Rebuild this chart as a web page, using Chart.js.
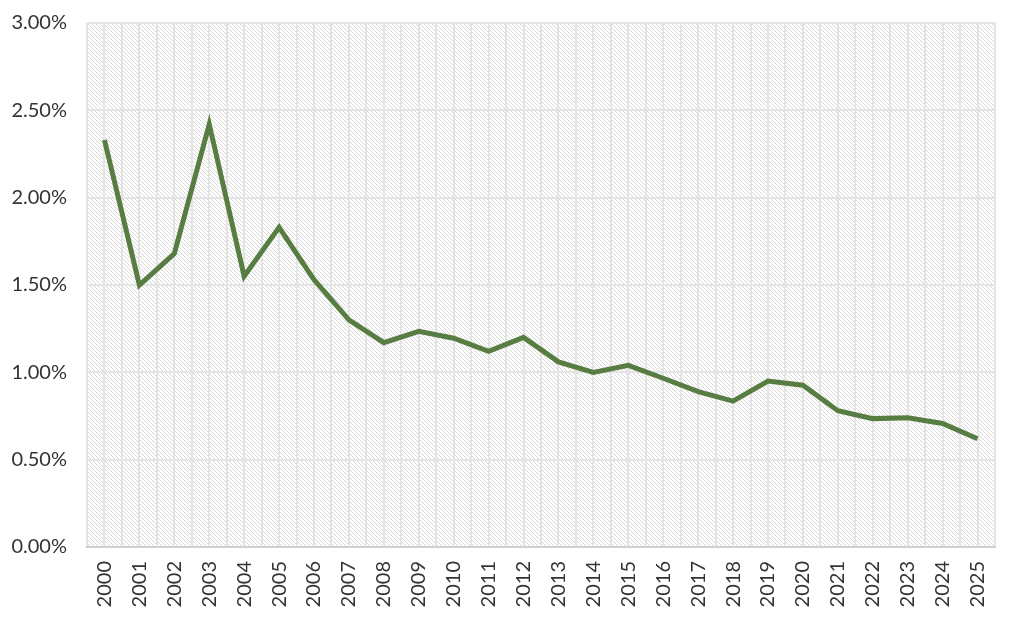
<!DOCTYPE html>
<html>
<head>
<meta charset="utf-8">
<script src="https://cdn.jsdelivr.net/npm/chart.js@4.4.1/dist/chart.umd.min.js"></script>
<style>
  html, body { margin: 0; padding: 0; background: #fff; }
  #wrap { width: 1024px; height: 633px; }
</style>
</head>
<body>
<div id="wrap"><canvas id="myChart" width="1024" height="633"></canvas></div>
<script>
const years = ["2000", "2001", "2002", "2003", "2004", "2005", "2006", "2007", "2008", "2009",
  "2010", "2011", "2012", "2013", "2014", "2015", "2016", "2017", "2018", "2019",
  "2020", "2021", "2022", "2023", "2024", "2025"];
const rates = [2.33, 1.50, 1.68, 2.42, 1.55, 1.83, 1.53, 1.30, 1.17, 1.235,
  1.195, 1.12, 1.20, 1.06, 1.00, 1.04, 0.966, 0.89, 0.835, 0.95,
  0.926, 0.78, 0.735, 0.74, 0.707, 0.62];
const yMin = 0;
const yMax = 3;
const yStep = 0.5;

// diagonal hatch behind the plot area
function makeHatch(ctx) {
  const c = document.createElement("canvas");
  c.width = 4; c.height = 4;
  const p = c.getContext("2d");
  p.fillStyle = "#ffffff";
  p.fillRect(0, 0, 4, 4);
  p.strokeStyle = "#d8d8d8";
  p.lineWidth = 1;
  p.beginPath();
  p.moveTo(-1, -1); p.lineTo(5, 5);
  p.moveTo(-1, 3); p.lineTo(1, 5);
  p.moveTo(3, -1); p.lineTo(5, 1);
  p.stroke();
  return ctx.createPattern(c, "repeat");
}

const hatchBg = {
  id: "hatchBg",
  beforeDraw(chart) {
    const { ctx, chartArea } = chart;
    ctx.save();
    ctx.fillStyle = makeHatch(ctx);
    ctx.fillRect(chartArea.left, chartArea.top, chartArea.right - chartArea.left, chartArea.bottom - chartArea.top);
    ctx.restore();
  }
};

const font = { family: "Lato, 'Liberation Sans', sans-serif", size: 20 };
const gridCol = "#e4e4e4";

const ctx = document.getElementById("myChart").getContext("2d");
const myChart = new Chart(ctx, {
  type: "line",
  data: {
    labels: years,
    datasets: [{
      data: rates,
      borderColor: "#587d42",
      borderWidth: 5,
      pointRadius: 0,
      tension: 0,
      fill: false
    }]
  },
  options: {
    responsive: false,
    animation: false,
    layout: { padding: { top: 23, right: 29, left: 0, bottom: 0 } },
    plugins: { legend: { display: false }, tooltip: { enabled: false } },
    scales: {
      x: {
        offset: true,
        grid: { color: gridCol, lineWidth: 2, drawTicks: false, offset: true },
        border: { color: "#d0d0d0", width: 2 },
        ticks: { font, color: "#333", minRotation: 90, maxRotation: 90, padding: 14, autoSkip: false },
        afterFit(scale) { scale.height = 86; scale.paddingLeft = 0; scale.paddingRight = 0; }
      },
      x2: {
        type: "category",
        labels: years,
        position: "bottom",
        offset: true,
        grid: { color: gridCol, lineWidth: 2, drawTicks: false, offset: false },
        border: { display: false },
        ticks: { display: false },
        afterFit(scale) { scale.height = 0; }
      },
      y: {
        min: yMin,
        max: yMax,
        grid: { color: gridCol, lineWidth: 2, drawTicks: false },
        border: { display: false },
        ticks: {
          stepSize: yStep,
          font,
          color: "#333",
          padding: 20,
          callback: (v) => v.toFixed(2) + "%"
        },
        afterFit(scale) { scale.width = 87; scale.paddingTop = 0; scale.paddingBottom = 0; }
      }
    }
  },
  plugins: [hatchBg]
});
</script>
</body>
</html>
